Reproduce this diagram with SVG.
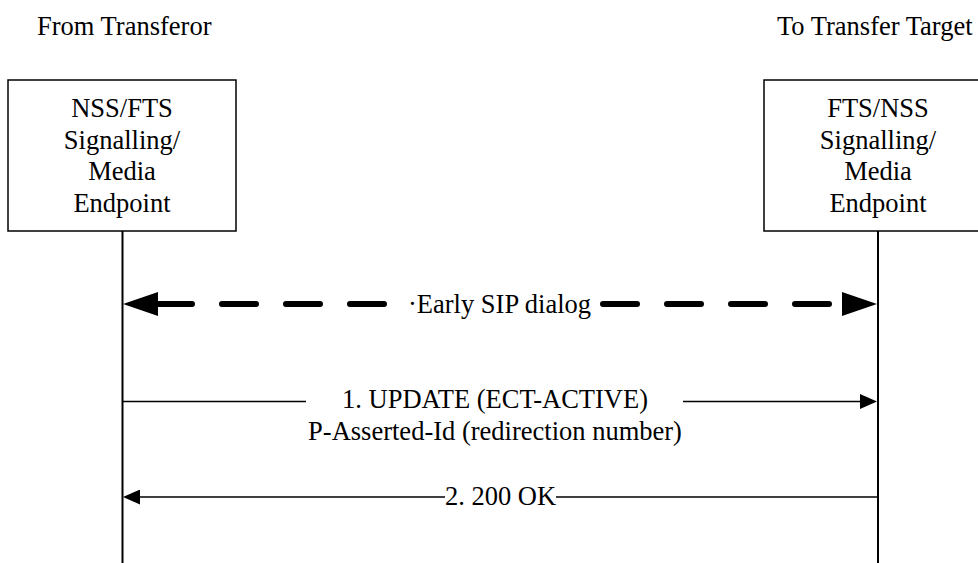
<svg xmlns="http://www.w3.org/2000/svg" width="978" height="563" viewBox="0 0 978 563">
  <style>
    text { font-family: "Liberation Serif", "Times New Roman", serif; font-size: 26.5px; fill: #000; }
    .mid { text-anchor: middle; }
    .box { fill: #fff; stroke: #000; stroke-width: 1.5; }
    .life { stroke: #000; stroke-width: 2; fill: none; }
    .msg { stroke: #000; stroke-width: 1.5; fill: none; }
    .dash { stroke: #000; stroke-width: 6; fill: none; stroke-linecap: round; stroke-dasharray: 34 30; }
  </style>
  <defs>
    <marker id="bigHead" markerUnits="userSpaceOnUse" markerWidth="35" markerHeight="24" viewBox="0 0 35 24" refX="0" refY="12" orient="auto">
      <path d="M0,0 L35,12 L0,24 Z" fill="#000"/>
    </marker>
    <marker id="smallHead" markerUnits="userSpaceOnUse" markerWidth="17" markerHeight="15" viewBox="0 0 17 15" refX="0" refY="7.5" orient="auto">
      <path d="M0,0 L17,7.5 L0,15 Z" fill="#000"/>
    </marker>
  </defs>
  <rect width="978" height="563" fill="#fff"/>

  <g id="label-from">
    <text x="37" y="35">From Transferor</text>
  </g>
  <g id="label-to">
    <text x="777" y="35">To Transfer Target</text>
  </g>

  <g id="node-left">
    <rect class="box" x="8" y="80" width="228" height="151"/>
    <text class="mid" x="122" y="117">NSS/FTS</text>
    <text class="mid" x="122" y="149">Signalling/</text>
    <text class="mid" x="122" y="180">Media</text>
    <text class="mid" x="122" y="212">Endpoint</text>
  </g>

  <g id="node-right">
    <rect class="box" x="764" y="80" width="228" height="151"/>
    <text class="mid" x="878" y="117">FTS/NSS</text>
    <text class="mid" x="878" y="149">Signalling/</text>
    <text class="mid" x="878" y="180">Media</text>
    <text class="mid" x="878" y="212">Endpoint</text>
  </g>

  <g id="connectors">
    <line class="life" x1="122.5" y1="231" x2="122.5" y2="563"/>
    <line class="life" x1="878" y1="231" x2="878" y2="563"/>

    <path class="dash" d="M384,304 H158" marker-end="url(#bigHead)"/>
    <path class="dash" d="M603,304 H842" marker-end="url(#bigHead)"/>
    <text x="408" y="313">·Early SIP dialog</text>

    <path class="msg" d="M123,401.5 H306"/>
    <path class="msg" d="M683,401.5 H860" marker-end="url(#smallHead)"/>
    <text class="mid" x="495" y="408">1. UPDATE (ECT-ACTIVE)</text>
    <text class="mid" x="495" y="440">P-Asserted-Id (redirection number)</text>

    <path class="msg" d="M877,497 H556"/>
    <path class="msg" d="M445,497 H140" marker-end="url(#smallHead)"/>
    <text class="mid" x="500.5" y="505">2. 200 OK</text>
  </g>
</svg>
